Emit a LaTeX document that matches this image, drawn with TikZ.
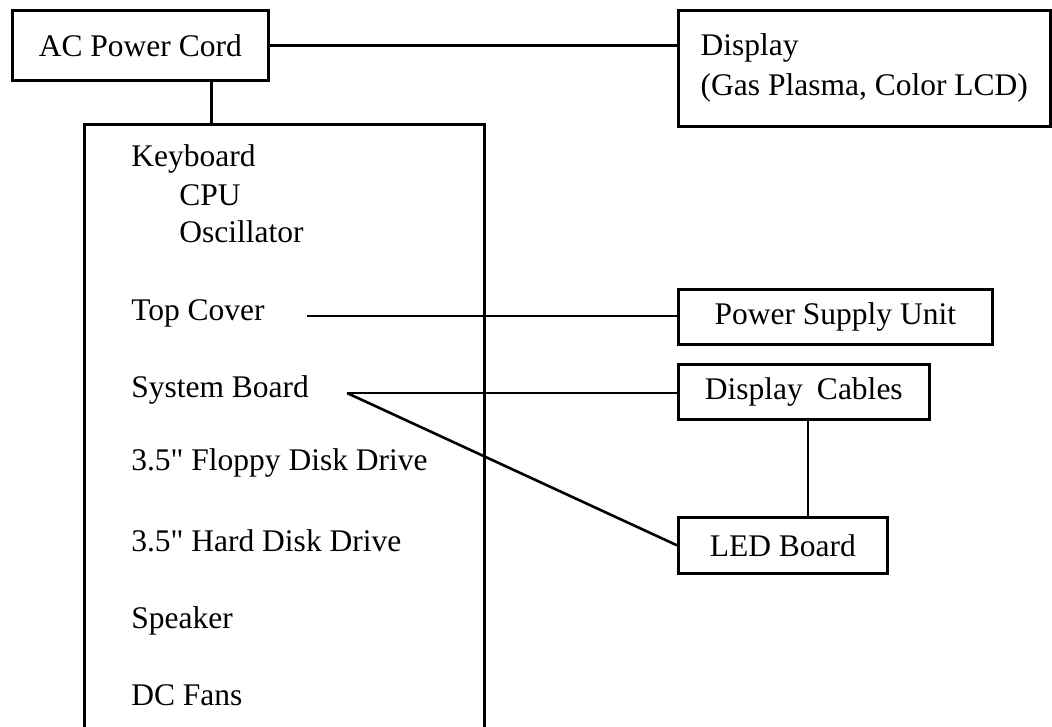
\documentclass[tikz,border=0pt]{standalone}
\usepackage{fontspec}
\setmainfont{Liberation Serif}[Ligatures=TeXOff]
\begin{document}
\begin{tikzpicture}[x=1pt, y=-1pt, line width=2.6pt,
  box/.style={draw, inner sep=0pt, anchor=north west, font=\fontsize{31.5}{40}\selectfont},
  item/.style={anchor=base west, inner sep=0pt, font=\fontsize{31.5}{40}\selectfont}]

\useasboundingbox (0,0) rectangle (1052,727);
\clip (0,0) rectangle (1052,727);

% boxes
\node[box, minimum width=256pt, minimum height=70pt] (ac) at (11,9) {AC Power Cord};
\node[box, minimum width=372pt, minimum height=116pt, align=left] (disp) at (677,9) {Display\\(Gas Plasma, Color LCD)};
\node[box, minimum width=400pt, minimum height=620pt] (big) at (83,123) {};
\node[box, minimum width=314pt, minimum height=55pt] (psu) at (677,288) {Power Supply Unit};
\node[box, minimum width=251pt, minimum height=55pt] (cab) at (677,363) {Display\hspace{0.2em} Cables};
\node[box, minimum width=209pt, minimum height=56pt] (led) at (677,516) {LED Board};

% parts inside the unit
\node[item] (kbd) at (130,167) {Keyboard};
\node[item] (cpu) at (178,206) {CPU};
\node[item] (osc) at (178,243) {Oscillator};
\node[item] (top) at (130,320) {Top Cover};
\node[item] (sys) at (130,397) {System Board};
\node[item] (fdd) at (130,470) {3.5" Floppy Disk Drive};
\node[item] (hdd) at (130,551) {3.5" Hard Disk Drive};
\node[item] (spk) at (130,628) {Speaker};
\node[item] (fan) at (130,705) {DC Fans};

\coordinate (topend) at (307,316);
\coordinate (sysend) at (347,393);

% connections
\draw (ac.east) -- (ac.east -| disp.west);
\draw ([xshift=71pt]ac.south) -- ([xshift=71pt]ac.south |- big.north);
\draw (topend) -- (topend -| psu.west);
\draw (sysend) -- (sysend -| cab.west);
\draw (sysend) -- (led.west);
\draw ([xshift=4pt]cab.south) -- ([xshift=4pt]cab.south |- led.north);

\end{tikzpicture}
\end{document}
